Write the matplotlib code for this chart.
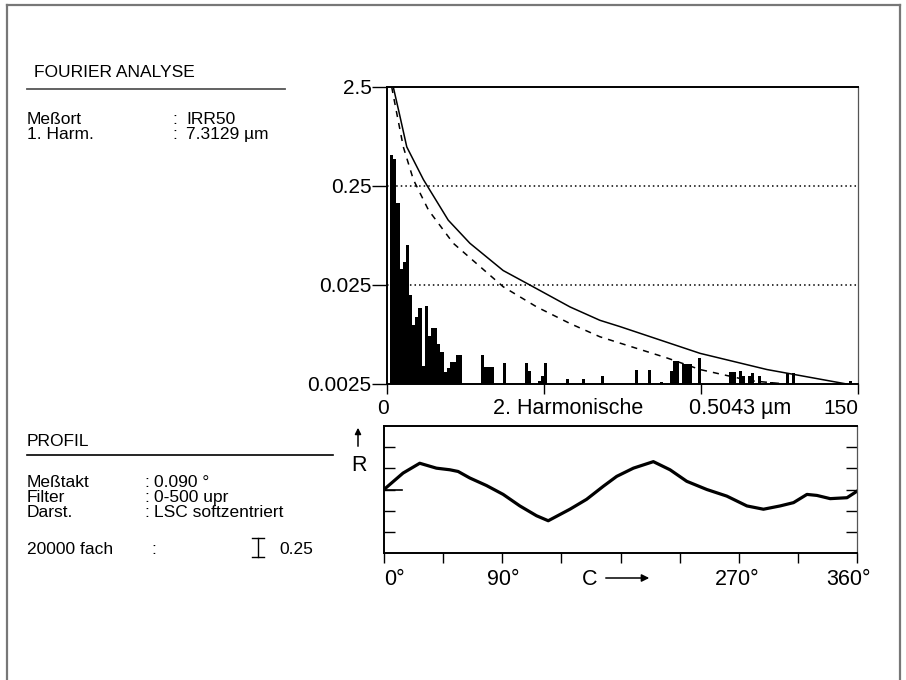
import matplotlib.pyplot as plt
import matplotlib.patches as mpatches
from matplotlib.lines import Line2D

plt.rcParams['font.family'] = ['Liberation Sans', 'DejaVu Sans']

W, H = 906, 680

# Fourier spectrum: harmonic number and amplitude (um)
harm = [1, 2, 3, 4, 5, 6, 7, 8, 9, 10, 11, 12, 13, 14, 15, 16, 17, 18, 19, 20,
        21, 22, 23, 30, 31, 32, 33, 37, 44, 45, 48, 49, 50, 57, 62, 68, 79, 83,
        87, 90, 91, 92, 94, 95, 96, 99, 109, 110, 112, 113, 115, 116, 118, 122,
        127, 129, 147]
amp = [0.51, 0.47, 0.17, 0.036, 0.043, 0.063, 0.020, 0.0099, 0.012, 0.0147,
       0.0038, 0.0154, 0.0077, 0.0092, 0.0092, 0.0064, 0.0053, 0.0033, 0.0036,
       0.0042, 0.0042, 0.0049, 0.0049, 0.0049, 0.0037, 0.0037, 0.0037, 0.0041,
       0.0041, 0.0034, 0.0027, 0.003, 0.0041, 0.0028, 0.0028, 0.003, 0.0035,
       0.0035, 0.0026, 0.0034, 0.0043, 0.0043, 0.004, 0.004, 0.004, 0.0046,
       0.0033, 0.0033, 0.0034, 0.003, 0.003, 0.0032, 0.003, 0.0026, 0.0032,
       0.0032, 0.0027]

# tolerance curves
solid_h = [2.0, 3.9, 6.3, 11.6, 19.5, 26.4, 37, 45.5, 58.3, 67.8, 74.2, 99.7, 121, 146.4]
solid_v = [2.5, 1.36, 0.62, 0.29, 0.113, 0.066, 0.035, 0.025, 0.015, 0.011, 0.0095, 0.0051, 0.0035, 0.0025]
dash_h = [1.5, 3.1, 5.2, 8.4, 13.2, 21.1, 37, 47.7, 58.3, 67.8, 89, 99.7, 115.6, 127]
dash_v = [2.5, 1.36, 0.62, 0.29, 0.143, 0.066, 0.024, 0.015, 0.0102, 0.0075, 0.0046, 0.0035, 0.0027, 0.0025]

# roundness profile (deg, um)
prof_deg = [0, 14.5, 27.2, 39.9, 50.1, 56.4, 65.3, 78, 90.7, 103.4, 116.1, 125,
            141.5, 154.2, 166.9, 177.1, 189.8, 205, 217.7, 230.4, 245.7, 260.9,
            276.2, 288.8, 301.5, 311.7, 321.9, 329.5, 339.6, 352.4, 360]
prof_um = [0, 0.194, 0.31, 0.252, 0.233, 0.213, 0.136, 0.047, -0.058, -0.194,
           -0.31, -0.369, -0.233, -0.116, 0.038, 0.155, 0.252, 0.329, 0.233,
           0.097, 0, -0.078, -0.194, -0.233, -0.194, -0.155, -0.058, -0.07,
           -0.108, -0.097, -0.02]


def fx(x):
    return x / W


def fy(y):
    return 1 - y / H


fig = plt.figure(figsize=(W / 100, H / 100), dpi=100)

# outer frame
for xs, ys in [([7, 900], [5, 5]), ([7, 7], [5, 680]), ([900, 900], [5, 680])]:
    fig.add_artist(Line2D([fx(v) for v in xs], [fy(v) for v in ys],
                          transform=fig.transFigure, color='#777777', lw=1.6))

afs = 15.5

# ---- spectrum ----
ax = fig.add_axes([fx(387), fy(384), (858 - 387) / W, (384 - 87) / H])
ax.set_yscale('log')
ax.bar(harm, [a - 0.0025 for a in amp], bottom=0.0025, width=1, align='edge',
       color='black', linewidth=0)
ax.plot(solid_h, solid_v, color='black', lw=1.1)
ax.plot(dash_h, dash_v, color='black', lw=1.1, ls=(0, (4, 4)))
for g in [0.25, 0.025]:
    ax.axhline(g, color='black', lw=1.1, ls=(0, (1, 2)))
ax.set_xlim(0, 150)
ax.set_ylim(0.0025, 2.5)
ax.set_yticks([0.0025, 0.025, 0.25, 2.5])
ax.set_yticklabels(['0.0025', '0.025', '0.25', '2.5'], fontsize=15)
ax.minorticks_off()
ax.set_xticks([0, 50, 100, 150])
ax.set_xticklabels([])
ax.tick_params(axis='y', direction='out', length=11, width=1, pad=0)
ax.tick_params(axis='x', direction='out', length=7, width=1)
for s in ['left', 'bottom', 'top']:
    ax.spines[s].set_linewidth(1.4)
ax.spines['right'].set_linewidth(0.9)
ax.spines['right'].set_color('#555555')

lab_y = fy(414)
fig.text(fx(383), lab_y, '0', fontsize=15, ha='center', va='baseline')
fig.text(fx(493), lab_y, '2. Harmonische', fontsize=afs, ha='left', va='baseline')
fig.text(fx(689), lab_y, '0.5043 µm', fontsize=afs, ha='left', va='baseline')
fig.text(fx(858), lab_y, '150', fontsize=15, ha='right', va='baseline')

# ---- profile ----
ax2 = fig.add_axes([fx(384), fy(553), (857 - 384) / W, (553 - 426) / H])
ax2.plot(prof_deg, prof_um, color='black', lw=2.3)
ax2.set_xlim(0, 360)
ax2.set_ylim(-0.75, 0.75)
ax2.set_xticks(range(0, 361, 45))
ax2.set_xticklabels([])
ax2.set_yticks([-0.5, -0.25, 0, 0.25, 0.5])
ax2.set_yticklabels([])
ax2.tick_params(axis='x', direction='out', length=7, width=1)
ax2.tick_params(axis='y', direction='in', length=8, width=1, right=True)
for s in ['left', 'bottom', 'top']:
    ax2.spines[s].set_linewidth(1.4)
ax2.spines['right'].set_linewidth(0.9)
ax2.spines['right'].set_color('#555555')
ax2.plot([0, 14], [0, 0], color='black', lw=1.2)

deg_y = fy(585)
fig.text(fx(384), deg_y, '0°', fontsize=afs, ha='left', va='baseline')
fig.text(fx(503), deg_y, '90°', fontsize=afs, ha='center', va='baseline')
fig.text(fx(737), deg_y, '270°', fontsize=afs, ha='center', va='baseline')
fig.text(fx(871), deg_y, '360°', fontsize=afs, ha='right', va='baseline')
fig.text(fx(582), deg_y, 'C', fontsize=afs, ha='left', va='baseline')
fig.add_artist(mpatches.FancyArrowPatch((fx(603), fy(578)), (fx(652), fy(578)),
                                        transform=fig.transFigure, arrowstyle='-|>',
                                        mutation_scale=11, lw=1.1, color='black'))
fig.text(fx(351), fy(471), 'R', fontsize=afs, ha='left', va='baseline')
fig.add_artist(mpatches.FancyArrowPatch((fx(358), fy(449)), (fx(358), fy(425)),
                                        transform=fig.transFigure, arrowstyle='-|>',
                                        mutation_scale=9, lw=1.1, color='black'))

# ---- left text ----
fs = 12.5
fig.text(fx(34), fy(77), 'FOURIER ANALYSE', fontsize=fs, va='baseline')
fig.add_artist(Line2D([fx(27), fx(285)], [fy(89), fy(89)], transform=fig.transFigure,
                      color='#555555', lw=1.3))
for yb, k, v in [(124, 'Meßort', 'IRR50'), (139, '1. Harm.', '7.3129 µm')]:
    fig.text(fx(27), fy(yb), k, fontsize=fs, va='baseline')
    fig.text(fx(172), fy(yb), ':', fontsize=fs, va='baseline')
    fig.text(fx(186), fy(yb), v, fontsize=fs, va='baseline')

fig.text(fx(27), fy(446), 'PROFIL', fontsize=fs, va='baseline')
fig.add_artist(Line2D([fx(27), fx(333)], [fy(455), fy(455)], transform=fig.transFigure,
                      color='black', lw=1.2))
for yb, k, v in [(487, 'Meßtakt', '0.090 °'), (502, 'Filter', '0-500 upr'),
                 (517, 'Darst.', 'LSC softzentriert')]:
    fig.text(fx(27), fy(yb), k, fontsize=fs, va='baseline')
    fig.text(fx(144), fy(yb), ':', fontsize=fs, va='baseline')
    fig.text(fx(154), fy(yb), v, fontsize=fs, va='baseline')

fig.text(fx(27), fy(554), '20000 fach', fontsize=fs, va='baseline')
fig.text(fx(151), fy(554), ':', fontsize=fs, va='baseline')
fig.text(fx(279), fy(554), '0.25', fontsize=fs, va='baseline')
for xs, ys in [([258, 258], [538, 557]), ([252, 264], [538, 538]), ([252, 264], [557, 557])]:
    fig.add_artist(Line2D([fx(v) for v in xs], [fy(v) for v in ys],
                          transform=fig.transFigure, color='black', lw=1.0))

fig.savefig('out.png', dpi=100)
